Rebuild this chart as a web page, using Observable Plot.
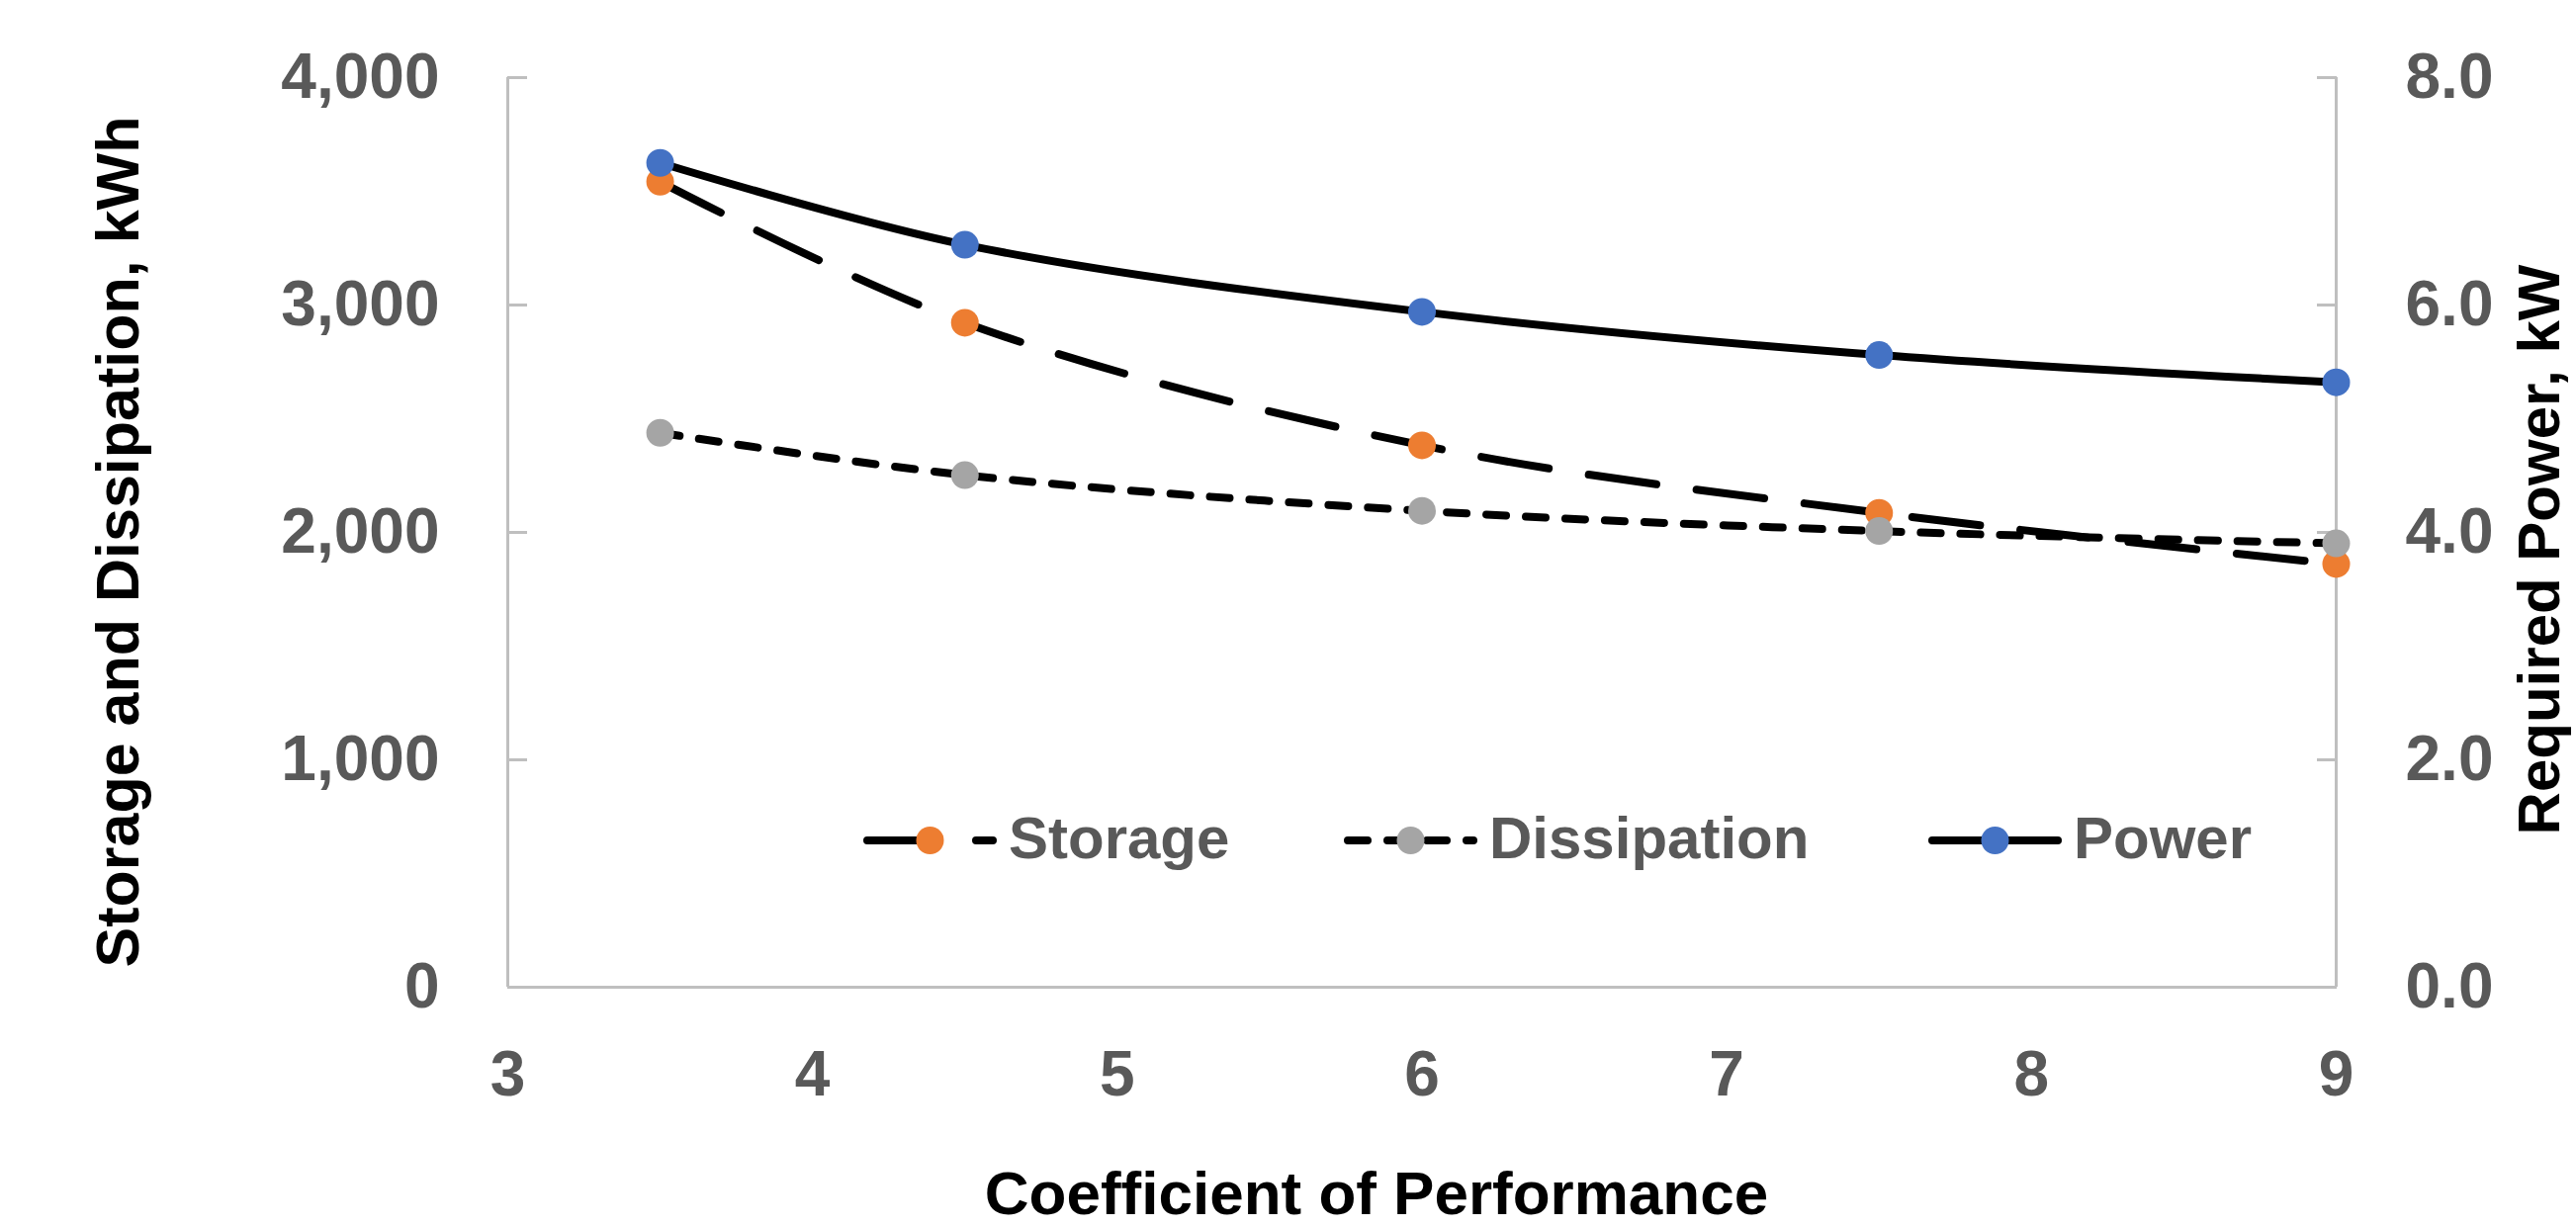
<!DOCTYPE html>
<html>
<head>
<meta charset="utf-8">
<script src="https://cdn.jsdelivr.net/npm/d3@7"></script>
<script src="https://cdn.jsdelivr.net/npm/@observablehq/plot@0.6"></script>
<style>
  html, body { margin: 0; padding: 0; background: #fff; overflow: hidden; }
  #chart svg { display: block; }
  #chart g[aria-label$="tick label"] { fill: #595959; }
</style>
</head>
<body>
<div id="chart"></div>
<script>
// ---- Data ----
const cop = [3.5, 4.5, 6, 7.5, 9];                 // Coefficient of Performance
const storage = [3542, 2922, 2383, 2086, 1861];     // kWh (left axis)
const dissipation = [2438, 2252, 2095, 2006, 1952]; // kWh (left axis)
const power = [7.25, 6.53, 5.94, 5.56, 5.32];       // kW (right axis)

const xTicks = [3, 4, 5, 6, 7, 8, 9];
const leftTicks = [0, 1000, 2000, 3000, 4000];
const rightTicks = [0, 2, 4, 6, 8];

const seriesNames = ["Storage", "Dissipation", "Power"];
const seriesColors = ["#ED7D31", "#A5A5A5", "#4472C4"];

const xTitle = "Coefficient of Performance";
const yLeftTitle = "Storage and Dissipation, kWh";
const yRightTitle = "Required Power, kW";

// ---- Build tables ----
const leftMax = leftTicks[leftTicks.length - 1];
const rightMax = rightTicks[rightTicks.length - 1];
const ratio = leftMax / rightMax; // right axis value -> left scale

const storageData = cop.map((x, i) => ({x, y: storage[i]}));
const dissipationData = cop.map((x, i) => ({x, y: dissipation[i]}));
const powerData = cop.map((x, i) => ({x, y: power[i] * ratio}));

const W = 2605, H = 1241;
const axisGray = "#bfbfbf";
const font = "Liberation Sans, Arial, sans-serif";
const dashes = ["69,41", "20,20", null];

const lineOpts = (i) => ({
  x: "x", y: "y", curve: "catmull-rom", stroke: "black", strokeWidth: 8,
  strokeDasharray: dashes[i], strokeLinecap: dashes[i] ? "round" : "butt"
});
const dotOpts = (i) => ({x: "x", y: "y", r: 14, fill: seriesColors[i], stroke: "none"});

const plot = Plot.plot({
  width: W, height: H,
  marginLeft: 513, marginRight: 243, marginTop: 78, marginBottom: 243,
  x: {domain: [xTicks[0], xTicks[xTicks.length - 1]]},
  y: {domain: [0, leftMax]},
  style: {fontFamily: font, background: "white", overflow: "hidden"},
  marks: [
    // axis lines
    Plot.ruleX([xTicks[0], xTicks[xTicks.length - 1]], {stroke: axisGray, strokeWidth: 3}),
    Plot.ruleY([0], {stroke: axisGray, strokeWidth: 3}),
    // inward ticks
    Plot.axisY(leftTicks, {anchor: "left", tickSize: 20, dx: 20, fill: "none", stroke: axisGray, strokeWidth: 3, label: null}),
    Plot.axisY(rightTicks.map(v => v * ratio), {anchor: "right", tickSize: 20, dx: -20, fill: "none", stroke: axisGray, strokeWidth: 3, label: null}),
    // tick labels
    Plot.axisY(leftTicks, {anchor: "left", tickSize: 0, tickPadding: 69, tickFormat: d3.format(","), fontSize: 64, fontWeight: "bold", label: null}),
    Plot.axisY(rightTicks.map(v => v * ratio), {anchor: "right", tickSize: 0, tickPadding: 70, tickFormat: d => (d / ratio).toFixed(1), fontSize: 64, fontWeight: "bold", label: null}),
    Plot.axisX(xTicks, {anchor: "bottom", tickSize: 0, tickPadding: 64, tickFormat: d => String(d), fontSize: 64, fontWeight: "bold", label: null}),
    // series
    Plot.line(storageData, lineOpts(0)),
    Plot.dot(storageData, dotOpts(0)),
    Plot.line(dissipationData, lineOpts(1)),
    Plot.dot(dissipationData, dotOpts(1)),
    Plot.line(powerData, lineOpts(2)),
    Plot.dot(powerData, dotOpts(2))
  ]
});

document.getElementById("chart").appendChild(plot);

// ---- Titles and legend ----
const svg = d3.select(plot);

svg.append("text")
  .attr("transform", "translate(140,548) rotate(-90)")
  .attr("text-anchor", "middle")
  .attr("font-family", font).attr("font-size", 61).attr("font-weight", "bold")
  .attr("fill", "black").text(yLeftTitle);

svg.append("text")
  .attr("transform", "translate(2588,556) rotate(-90)")
  .attr("text-anchor", "middle")
  .attr("font-family", font).attr("font-size", 60).attr("font-weight", "bold")
  .attr("fill", "black").text(yRightTitle);

svg.append("text")
  .attr("x", 1392).attr("y", 1228)
  .attr("text-anchor", "middle")
  .attr("font-family", font).attr("font-size", 62).attr("font-weight", "bold")
  .attr("fill", "black").text(xTitle);

// legend inside plot area
const legendY = 850;
const legendStarts = [873, 1359, 1950];
const sampleLen = 135;
const legend = svg.append("g").attr("aria-label", "legend");
seriesNames.forEach((name, i) => {
  const x0 = legendStarts[i];
  const g = legend.append("g");
  g.append("line")
    .attr("x1", x0 + 4).attr("x2", x0 + sampleLen - 4)
    .attr("y1", legendY).attr("y2", legendY)
    .attr("stroke", "black").attr("stroke-width", 8)
    .attr("stroke-linecap", "round")
    .attr("stroke-dasharray", dashes[i]);
  g.append("circle")
    .attr("cx", x0 + sampleLen / 2).attr("cy", legendY).attr("r", 14)
    .attr("fill", seriesColors[i]);
  g.append("text")
    .attr("x", x0 + sampleLen + 12).attr("y", legendY + 18)
    .attr("text-anchor", "start")
    .attr("font-family", font).attr("font-size", 60).attr("font-weight", "bold")
    .attr("fill", "#595959").text(name);
});
</script>
</body>
</html>
